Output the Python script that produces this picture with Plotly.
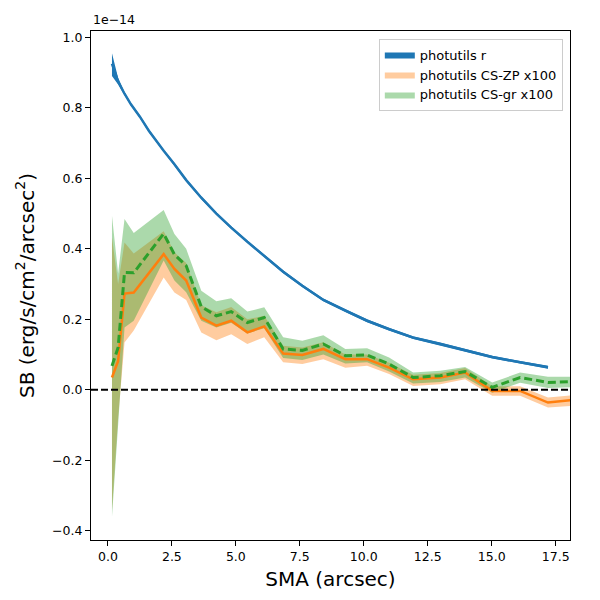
import plotly.graph_objects as go

# SB profiles in units of 1e-14 erg/s/cm^2/arcsec^2
sma_r = [0.16, 0.40, 0.65, 0.90, 1.25, 1.60, 2.18, 2.60, 3.06, 3.65, 4.24, 4.82,
         5.45, 6.11, 6.85, 7.60, 8.42, 9.28, 10.13, 10.99, 11.93, 12.99, 13.96,
         15.02, 16.11, 17.20]
sb_r = [0.925, 0.875, 0.840, 0.810, 0.775, 0.735, 0.678, 0.640, 0.595, 0.545,
        0.500, 0.460, 0.420, 0.380, 0.335, 0.295, 0.255, 0.225, 0.196, 0.172,
        0.148, 0.130, 0.112, 0.093, 0.078, 0.064]
sb_r_lo = [0.890, 0.866, 0.836, 0.806, 0.771, 0.731, 0.674, 0.636, 0.591, 0.541,
           0.496, 0.456, 0.416, 0.376, 0.331, 0.291, 0.251, 0.221, 0.192, 0.168,
           0.144, 0.126, 0.108, 0.089, 0.074, 0.060]
sb_r_hi = [0.955, 0.885, 0.844, 0.814, 0.779, 0.739, 0.682, 0.644, 0.599, 0.549,
           0.504, 0.464, 0.424, 0.384, 0.339, 0.299, 0.259, 0.229, 0.200, 0.176,
           0.152, 0.134, 0.116, 0.097, 0.082, 0.068]

sma_cs = [0.16, 0.40, 0.65, 1.01, 2.18, 2.60, 3.06, 3.65, 4.24, 4.82, 5.45, 6.11,
          6.85, 7.60, 8.42, 9.28, 10.13, 10.99, 11.93, 12.99, 13.96, 15.02, 16.11,
          17.20, 18.30]

sb_zp = [0.035, 0.082, 0.273, 0.276, 0.385, 0.343, 0.310, 0.205, 0.182, 0.196,
         0.163, 0.180, 0.103, 0.099, 0.116, 0.087, 0.087, 0.063, 0.030, 0.035,
         0.049, -0.003, -0.003, -0.036, -0.028]
sb_zp_lo = [-0.340, -0.080, 0.134, 0.168, 0.319, 0.276, 0.255, 0.163, 0.141, 0.158,
            0.130, 0.149, 0.078, 0.073, 0.087, 0.063, 0.068, 0.045, 0.011, 0.016,
            0.030, -0.017, -0.017, -0.050, -0.045]
sb_zp_hi = [0.433, 0.300, 0.418, 0.387, 0.450, 0.390, 0.360, 0.240, 0.220, 0.235,
            0.200, 0.210, 0.125, 0.120, 0.135, 0.100, 0.100, 0.077, 0.043, 0.048,
            0.062, 0.010, 0.010, -0.022, -0.014]

sb_gr = [0.068, 0.120, 0.333, 0.332, 0.443, 0.384, 0.352, 0.236, 0.210, 0.222,
         0.191, 0.205, 0.116, 0.112, 0.130, 0.097, 0.099, 0.073, 0.035, 0.040,
         0.052, 0.007, 0.035, 0.021, 0.024]
sb_gr_lo = [-0.360, -0.100, 0.177, 0.196, 0.367, 0.310, 0.277, 0.196, 0.177, 0.190,
            0.160, 0.175, 0.090, 0.085, 0.100, 0.075, 0.078, 0.052, 0.018, 0.022,
            0.035, -0.008, 0.020, 0.005, 0.008]
sb_gr_hi = [0.494, 0.330, 0.485, 0.445, 0.510, 0.442, 0.400, 0.281, 0.251, 0.260,
            0.222, 0.234, 0.149, 0.139, 0.155, 0.116, 0.118, 0.092, 0.049, 0.054,
            0.065, 0.021, 0.049, 0.037, 0.037]

x_ticks = [0.0, 2.5, 5.0, 7.5, 10.0, 12.5, 15.0, 17.5]
y_ticks = [-0.4, -0.2, 0.0, 0.2, 0.4, 0.6, 0.8, 1.0]

BLUE = "#1f77b4"
ORANGE = "#ff7f0e"
GREEN = "#2ca02c"


def band(x, lo, hi, color, name):
    return go.Scatter(x=list(x) + list(x)[::-1], y=list(hi) + list(lo)[::-1],
                      fill="toself", fillcolor=color, mode="lines",
                      line=dict(width=0, color=color), name=name,
                      hoverinfo="skip")


fig = go.Figure()
fig.add_trace(band(sma_r, sb_r_lo, sb_r_hi, BLUE, "photutils r"))
fig.add_trace(band(sma_cs, sb_zp_lo, sb_zp_hi, "rgba(255,127,14,0.4)",
                   "photutils CS-ZP x100"))
fig.add_trace(band(sma_cs, sb_gr_lo, sb_gr_hi, "rgba(44,160,44,0.4)",
                   "photutils CS-gr x100"))

fig.add_trace(go.Scatter(x=sma_r, y=sb_r, mode="lines",
                         line=dict(color=BLUE, width=2.5), showlegend=False))
fig.add_trace(go.Scatter(x=sma_cs, y=sb_zp, mode="lines",
                         line=dict(color=ORANGE, width=2.5), showlegend=False))
fig.add_trace(go.Scatter(x=sma_cs, y=sb_gr, mode="lines",
                         line=dict(color=GREEN, width=3, dash="8px,4px"),
                         showlegend=False))

fig.add_hline(y=0, line=dict(color="black", width=2, dash="7px,3px"))

fig.update_xaxes(range=[-0.66, 18.06], tickvals=x_ticks,
                 ticktext=[f"{v:.1f}" for v in x_ticks],
                 ticks="outside", ticklen=5, tickcolor="black",
                 showline=True, linecolor="black", linewidth=1.2, mirror=True,
                 showgrid=False, zeroline=False,
                 title=dict(text="SMA (arcsec)", font=dict(size=20), standoff=8))
fig.update_yaxes(range=[-0.426, 1.018], tickvals=y_ticks,
                 ticktext=[f"{v:.1f}".replace("-", "\u2212") for v in y_ticks],
                 ticks="outside", ticklen=5, tickcolor="black",
                 showline=True, linecolor="black", linewidth=1.2, mirror=True,
                 showgrid=False, zeroline=False,
                 title=dict(text="SB (erg/s/cm<sup>2</sup>/arcsec<sup>2</sup>)",
                            font=dict(size=20), standoff=12))

fig.add_annotation(text="1e\u221214", xref="paper", yref="paper", x=0, y=1,
                   xanchor="left", yanchor="bottom", showarrow=False,
                   font=dict(size=12.5), yshift=2)

# the page body adds an 8px offset, so margins are shifted to compensate
fig.update_layout(
    width=600, height=600,
    margin=dict(l=83, r=38, t=23, b=68),
    plot_bgcolor="white", paper_bgcolor="white",
    font=dict(family="DejaVu Sans", size=12.5, color="black"),
    legend=dict(x=0.985, y=0.985, xanchor="right", yanchor="top",
                bgcolor="rgba(255,255,255,0.8)", bordercolor="#cccccc",
                borderwidth=1, font=dict(size=13), tracegroupgap=4),
)

fig.write_html("out.html")
